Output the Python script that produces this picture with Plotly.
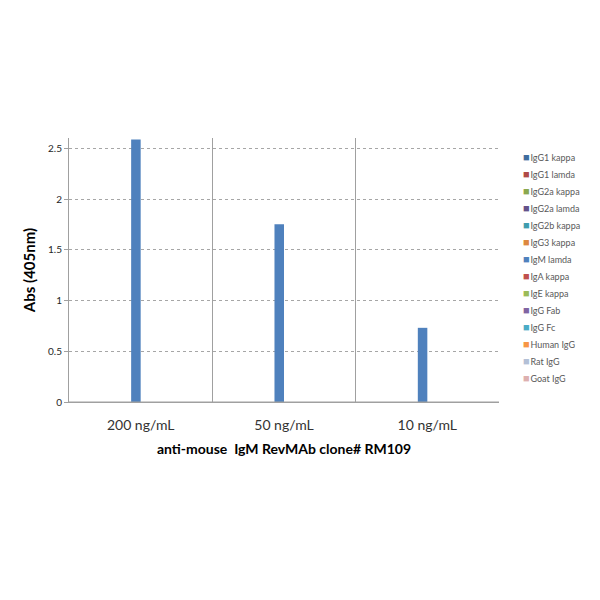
import plotly.graph_objects as go

categories = ["200 ng/mL", "50 ng/mL", "10 ng/mL"]
series_names = ["IgG1 kappa", "IgG1 lamda", "IgG2a kappa", "IgG2a lamda", "IgG2b kappa",
                "IgG3 kappa", "IgM lamda", "IgA kappa", "IgE kappa", "IgG Fab", "IgG Fc",
                "Human IgG", "Rat IgG", "Goat IgG"]
series_values = [
    [0, 0, 0],        # IgG1 kappa
    [0, 0, 0],        # IgG1 lamda
    [0, 0, 0],        # IgG2a kappa
    [0, 0, 0],        # IgG2a lamda
    [0, 0, 0],        # IgG2b kappa
    [0, 0, 0],        # IgG3 kappa
    [2.59, 1.755, 0.732],  # IgM lamda
    [0, 0, 0],        # IgA kappa
    [0, 0, 0],        # IgE kappa
    [0, 0, 0],        # IgG Fab
    [0, 0, 0],        # IgG Fc
    [0, 0, 0],        # Human IgG
    [0, 0, 0],        # Rat IgG
    [0, 0, 0],        # Goat IgG
]
colors = ["#3F6D9E", "#B04A47", "#8AA84F", "#64528A", "#3F9DAE", "#DD8840",
          "#4F81BD", "#C0504D", "#9BBB59", "#8064A2", "#4BACC6", "#F79646",
          "#B3C0D6", "#DDB0AF"]
y_ticks = [0, 0.5, 1, 1.5, 2, 2.5]
y_tick_labels = ["0", "0.5", "1", "1.5", "2", "2.5"]

fig = go.Figure()
for name, vals, col in zip(series_names, series_values, colors):
    fig.add_trace(go.Bar(x=categories, y=vals, name=name, marker_color=col,
                         marker_line_width=0, showlegend=False))

# page has 8px body margin; layout numbers below are in figure pixels
m_l, m_t, plot_w, plot_h = 61, 130, 430, 264
leg_top_px, leg_step_px, leg_x_px = 148, 17.05, 513
for i, (name, col) in enumerate(zip(series_names, colors)):
    ypx = leg_top_px + leg_step_px * i
    fig.add_annotation(
        xref="paper", yref="paper", x=(leg_x_px - m_l) / plot_w,
        y=(m_t + plot_h - ypx) / plot_h,
        xanchor="left", yanchor="middle", showarrow=False,
        text=f"<span style='color:{col};font-size:11px'>■</span><span style='font-size:3px'> </span>{name}",
        font=dict(size=9, color="#595959", family="Lato"),
    )

fig.update_layout(
    width=600, height=600,
    paper_bgcolor="white", plot_bgcolor="white",
    margin=dict(l=m_l, r=600 - m_l - plot_w, t=m_t, b=600 - m_t - plot_h),
    barmode="group", bargap=0.07, bargroupgap=0,
    font=dict(family="Lato", color="#262626"),
    showlegend=False,
    xaxis=dict(
        type="category", tickson="boundaries", showgrid=True, automargin=False,
        gridcolor="#A0A0A0", gridwidth=1, ticks="", showline=True,
        linecolor="#A0A0A0", mirror=False, ticklabelstandoff=10,
        tickfont=dict(size=14, color="#333333", family="Lato"),
        title=dict(text="<b>anti-mouse  IgM RevMAb clone# RM109</b>",
                   font=dict(size=14, color="#000000", family="Lato"), standoff=12),
    ),
    yaxis=dict(
        range=[0, 2.605], tickvals=y_ticks, ticktext=y_tick_labels, automargin=False,
        showgrid=True, gridcolor="#A6A6A6", griddash="dot", gridwidth=1,
        zeroline=False, showline=True, linecolor="#A0A0A0",
        ticks="outside", ticklen=4, tickcolor="#A0A0A0",
        tickfont=dict(size=10, color="#262626", family="Lato"),
        title=dict(text="<b>Abs (405nm)</b>",
                   font=dict(size=15, color="#000000", family="Lato"), standoff=8),
    ),
)
fig.add_shape(type="line", xref="paper", yref="paper", x0=0, x1=1, y0=0, y1=0,
              line=dict(color="#A0A0A0", width=1))

fig.write_html("out.html")
